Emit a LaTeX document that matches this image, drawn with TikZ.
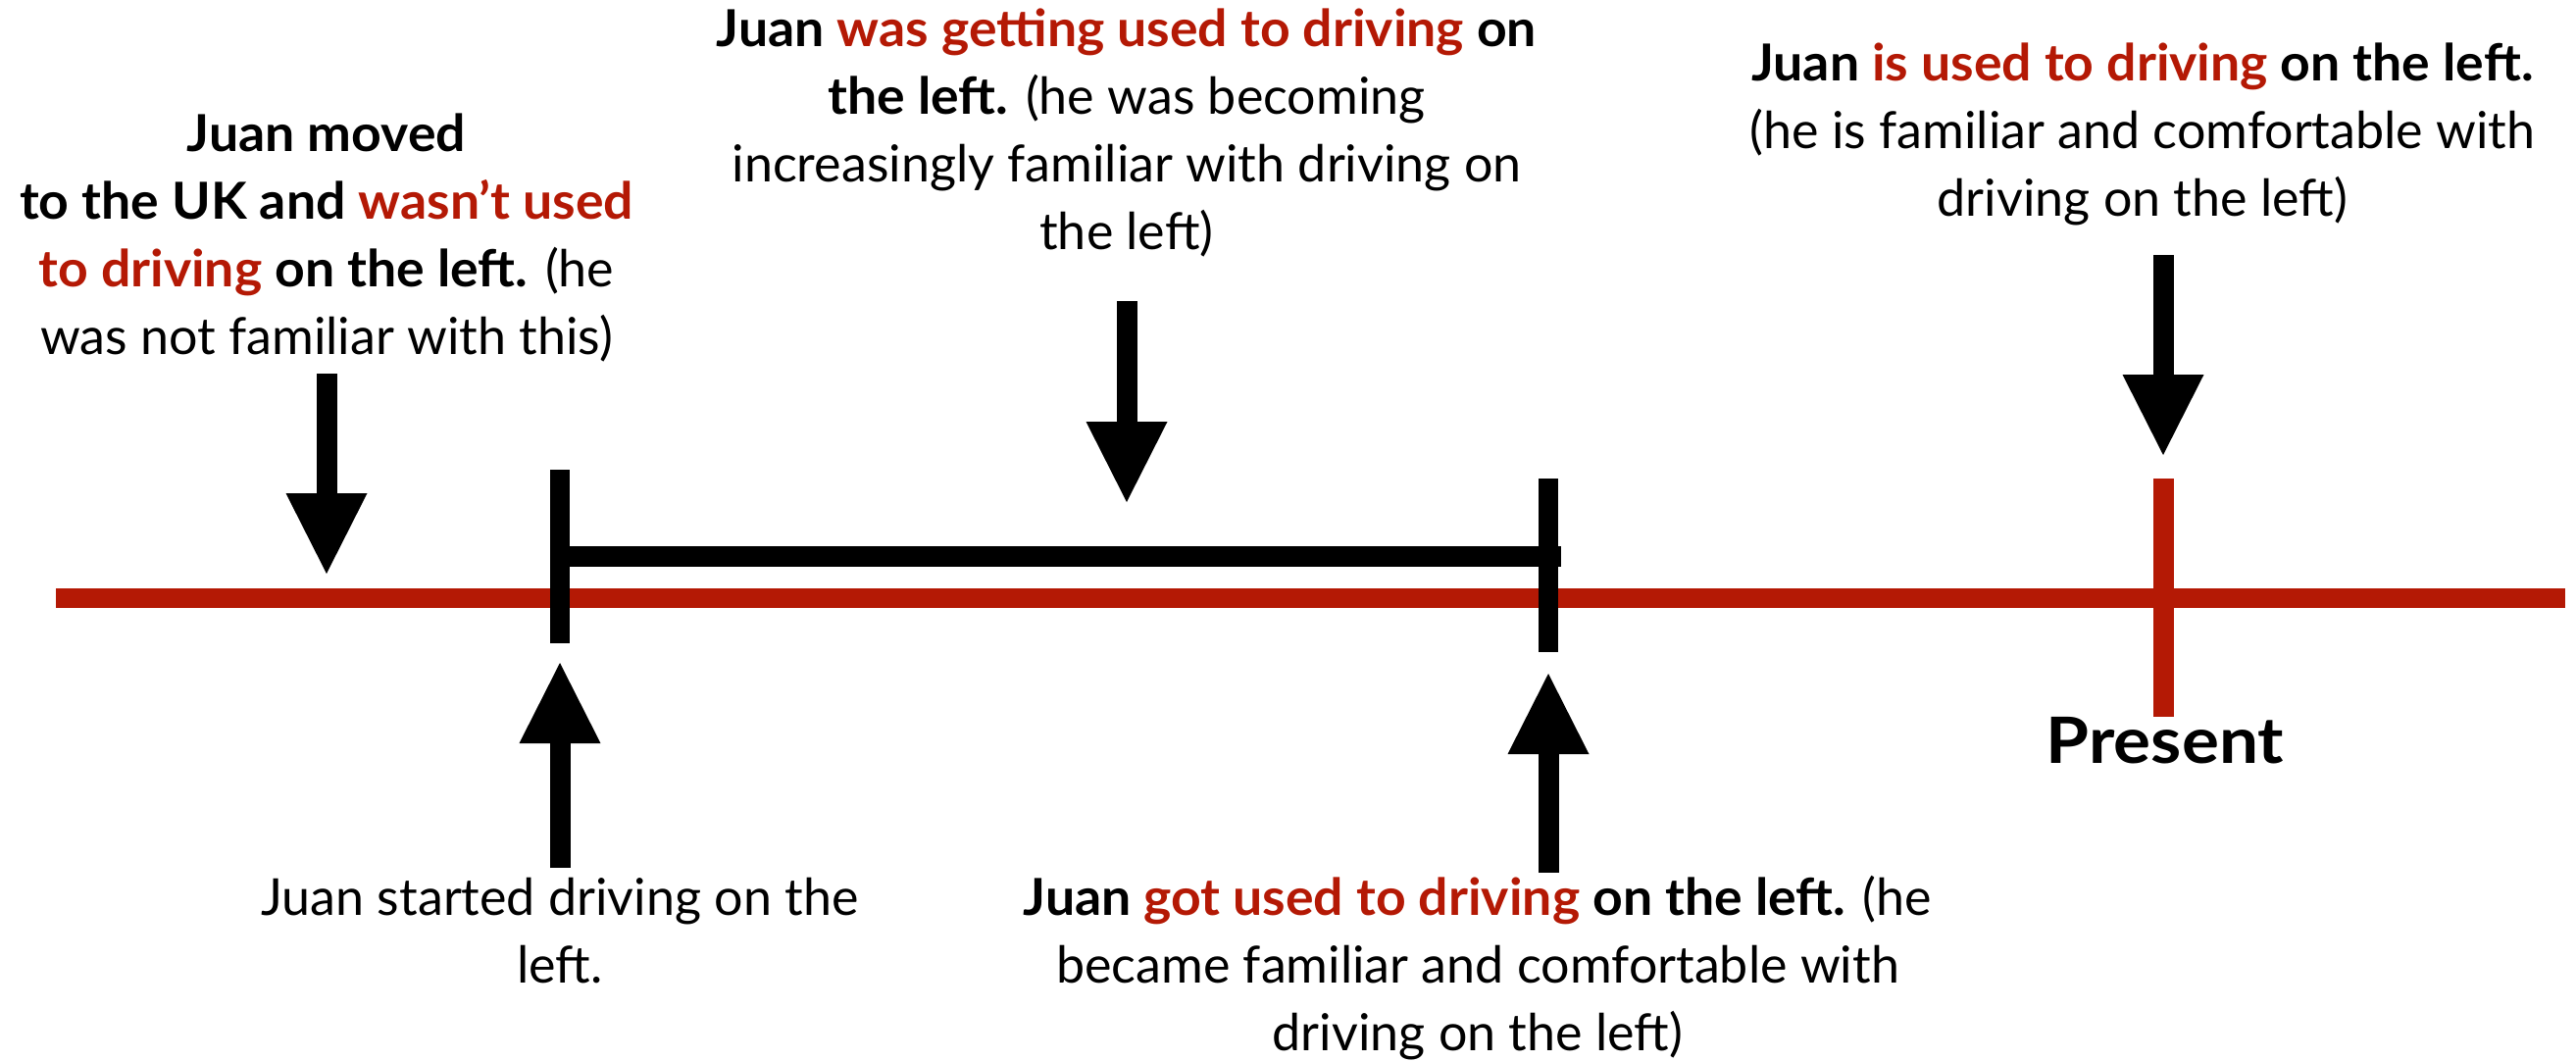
\documentclass[tikz,border=0pt]{standalone}
\usepackage{fontspec}
\setmainfont{Lato}[BoldFeatures={FakeStretch=1.03}]
\newfontfamily\presfont{Lato}[BoldFeatures={FakeStretch=1.09}]
\usetikzlibrary{arrows.meta}
\definecolor{tred}{RGB}{180,25,5}
\newcommand\rd[1]{\textcolor{tred}{#1}}
\newcommand\myst{\rule{0pt}{13pt}}
\begin{document}
\begin{tikzpicture}[x=0.25pt,y=-0.25pt,
  txt/.style={anchor=north,inner sep=0pt,align=center,font=\fontsize{13pt}{17.25pt}\selectfont},
  bigarrow/.style={line width=5.25pt,-{Triangle[length=20.5pt,width=20.75pt,line width=0pt]}},
  tick/.style={line width=5pt},
  redline/.style={line width=5pt,draw=tred}]
\useasboundingbox (0,0) rectangle (2627,1082);
% timeline
\coordinate (tlA) at (57,610);
\coordinate (tlB) at (2616,610);
\draw[redline] (tlA) -- (tlB);
% present tick
\coordinate (pT) at (2206,488);
\coordinate (pB) at (2206,731);
\draw[redline,line width=5.25pt] (pT) -- (pB);
% period bar
\coordinate (s1) at (571,479);
\coordinate (s2) at (571,656);
\coordinate (e1) at (1579,488);
\coordinate (e2) at (1579,665);
\coordinate (bA) at (571,567);
\coordinate (bB) at (1592,567);
\draw[tick,line width=5.25pt] (bA) -- (bB);
\draw[tick] (s1) -- (s2);
\draw[tick] (e1) -- (e2);
% text blocks
\node[txt] (t1) at (333,102) {\myst\textbf{Juan moved}\\
  \textbf{to the UK and \rd{wasn’t used}}\\
  \textbf{\rd{to driving} on the left.} (he\\
  was not familiar with this)};
\node[txt] (t2) at (1149,-5) {\myst\textbf{Juan \rd{was getting used to driving} on}\\
  \textbf{the left.} (he was becoming\\
  increasingly familiar with driving on\\
  the left)};
\node[txt] (t3) at (2185,30) {\myst\textbf{Juan \rd{is used to driving} on the left.}\\
  (he is familiar and comfortable with\\
  driving on the left)};
\node[txt] (t4) at (571,881) {\myst Juan started driving on the\\ left.};
\node[txt] (t5) at (1507,881) {\myst\textbf{Juan \rd{got used to driving} on the left.} (he\\
  became familiar and comfortable with\\
  driving on the left)};
\node[anchor=base,inner sep=0pt,font=\presfont\fontsize{16.3pt}{19pt}\selectfont\bfseries] (pr) at (2208,778) {Present};
% arrows
\coordinate (a1s) at (333,381); \coordinate (a1e) at (333,585);
\coordinate (a2s) at (1149,307); \coordinate (a2e) at (1149,512);
\coordinate (a3s) at (2206,260); \coordinate (a3e) at (2206,464);
\coordinate (a4s) at (571,885); \coordinate (a4e) at (571,676);
\coordinate (a5s) at (1579,890); \coordinate (a5e) at (1579,687);
\draw[bigarrow] (a1s) -- (a1e);
\draw[bigarrow] (a2s) -- (a2e);
\draw[bigarrow] (a3s) -- (a3e);
\draw[bigarrow] (a4s) -- (a4e);
\draw[bigarrow] (a5s) -- (a5e);
\end{tikzpicture}
\end{document}
